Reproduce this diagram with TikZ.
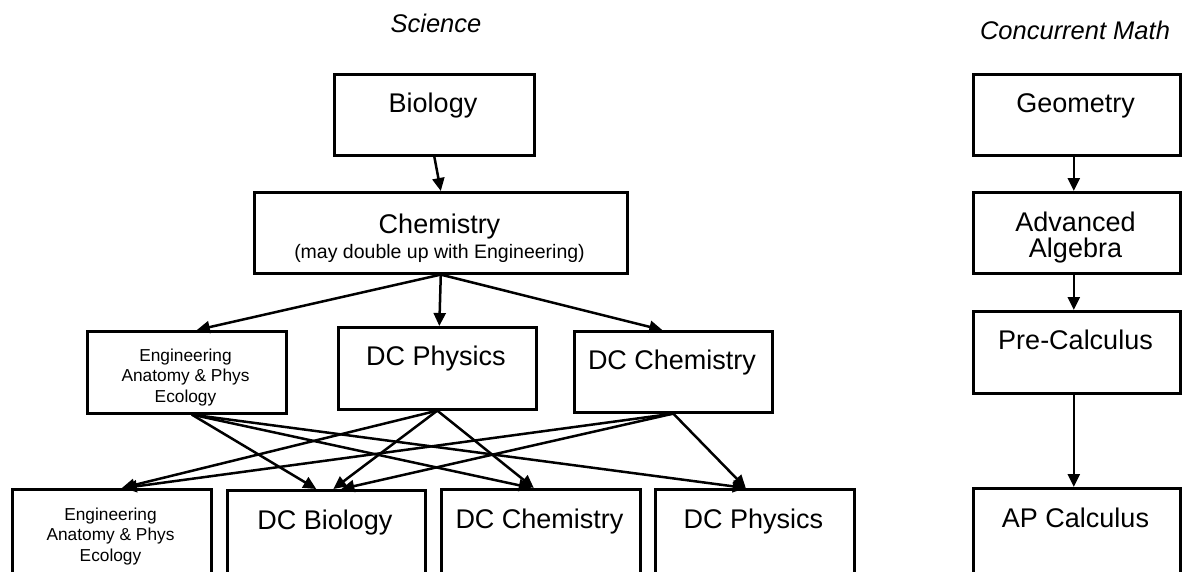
\documentclass[tikz,border=0pt]{standalone}
\usepackage{fontspec}
\setmainfont{Liberation Sans}
\usetikzlibrary{arrows.meta}
\begin{document}
\begin{tikzpicture}[x=1pt,y=-1pt,
  bx/.style 2 args={draw, line width=2.6pt, anchor=north west, inner sep=0pt,
    minimum width=#1pt, minimum height=#2pt},
  arr/.style={line width=2.5pt, -{Triangle[length=13pt,width=12pt]}},
  big/.style={font=\fontsize{27}{31}\selectfont, anchor=base, inner sep=0pt},
  sub/.style={font=\fontsize{19.5}{23}\selectfont, anchor=base, inner sep=0pt},
  small/.style={font=\fontsize{17.3}{20.2}\selectfont, align=center, anchor=base, inner sep=0pt},
  twoline/.style={font=\fontsize{27}{26}\selectfont, align=center, anchor=base, inner sep=0pt},
  ttl/.style={font=\itshape\fontsize{25.5}{30}\selectfont, anchor=base, inner sep=0pt}]
\fill[white] (0,0) rectangle (1182,571);
\useasboundingbox (0,0) rectangle (1182,571);
\clip (0,0) rectangle (1182,571);

% titles
\node[ttl] (tsci) at (436,32) {Science};
\node[ttl] (tmath) at (1075,39) {Concurrent Math};

% science boxes
\node[bx={200}{81}] (bio) at (333,73) {};
\node[bx={373}{81}] (chem) at (253,191) {};
\node[bx={199}{82}] (eng2) at (86,330) {};
\node[bx={198}{82}] (phys2) at (337,326) {};
\node[bx={198}{81}] (chem2) at (573,330) {};
\node[bx={199}{100}] (eng3) at (11,488) {};
\node[bx={198}{100}] (bio3) at (226,489) {};
\node[bx={199}{100}] (chem3) at (440,488) {};
\node[bx={199}{100}] (phys3) at (654,488) {};

% math boxes
\node[bx={207}{81}] (geo) at (972,73) {};
\node[bx={207}{81}] (alg) at (972,191) {};
\node[bx={207}{82}] (pre) at (972,310) {};
\node[bx={207}{100}] (ap) at (972,487) {};

% texts (anchor base = baseline of the last line)
\node[big] (tbio) at (433,112) {Biology};
\node[big] (tchem) at (439.5,233) {Chemistry};
\node[sub] (tchemsub) at (439.5,258) {(may double up with Engineering)};
\node[small] (teng2) at (185.5,402) {Engineering\\Anatomy \& Phys\\Ecology};
\node[big] (tphys2) at (436,365) {DC Physics};
\node[big] (tchem2) at (672,369) {DC Chemistry};
\node[small] (teng3) at (110.5,561) {Engineering\\Anatomy \& Phys\\Ecology};
\node[big] (tbio3) at (325,529) {DC Biology};
\node[big] (tchem3) at (539.5,528) {DC Chemistry};
\node[big] (tphys3) at (753.5,528) {DC Physics};
\node[big] (tgeo) at (1075.5,112) {Geometry};
\node[twoline] (talg) at (1075.5,257) {Advanced\\Algebra};
\node[big] (tpre) at (1075.5,349) {Pre-Calculus};
\node[big] (tap) at (1075.5,527) {AP Calculus};

% science arrows
\draw[arr] (bio.south) -- (chem.north);
\draw[arr] (chem.south) -- ([xshift=10pt]eng2.north);
\draw[arr] (chem.south) -- ([xshift=2pt]phys2.north);
\draw[arr] (chem.south) -- ([xshift=-11pt]chem2.north);

\draw[arr] ([xshift=5pt]eng2.south) -- ([xshift=-10pt]bio3.north);
\draw[arr] ([xshift=5pt]eng2.south) -- ([xshift=-9pt]chem3.north);
\draw[arr] ([xshift=5pt]eng2.south) -- ([xshift=-9pt]phys3.north);

\draw[arr] (phys2.south) -- ([xshift=10pt]eng3.north);
\draw[arr] (phys2.south) -- ([xshift=7pt]bio3.north);
\draw[arr] (phys2.south) -- ([xshift=-7pt]chem3.north);

\draw[arr] (chem2.south) -- ([xshift=12pt]eng3.north);
\draw[arr] (chem2.south) -- ([xshift=15pt]bio3.north);
\draw[arr] (chem2.south) -- ([xshift=-9pt]phys3.north);

% math arrows
\draw[arr] ([xshift=-3pt]geo.south) -- ([xshift=-3pt]alg.north);
\draw[arr] ([xshift=-3pt]alg.south) -- ([xshift=-3pt]pre.north);
\draw[arr] ([xshift=-3pt]pre.south) -- ([xshift=-3pt]ap.north);
\end{tikzpicture}
\end{document}
